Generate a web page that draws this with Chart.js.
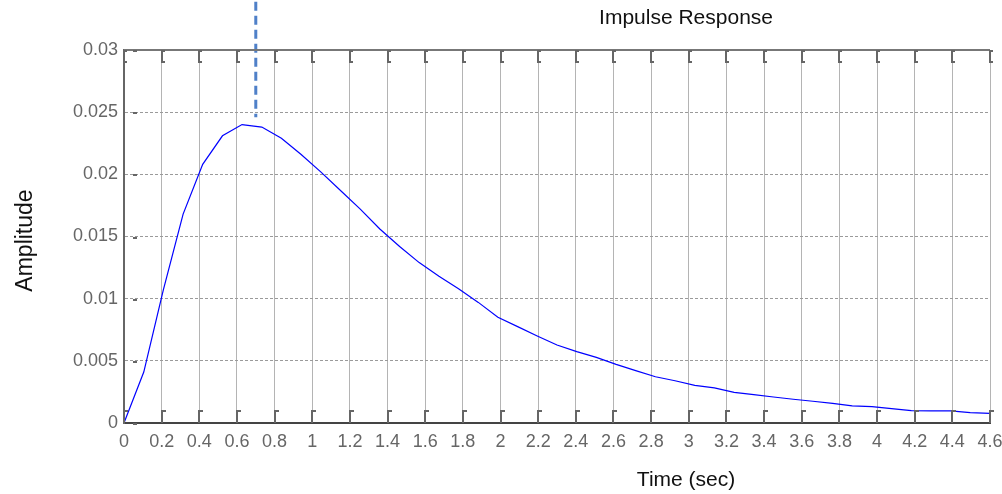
<!DOCTYPE html>
<html>
<head>
<meta charset="utf-8">
<script src="https://cdn.jsdelivr.net/npm/chart.js@4.4.1/dist/chart.umd.min.js"></script>
<style>
  html, body { margin: 0; padding: 0; background: #fff; }
</style>
</head>
<body>
<canvas id="impulseChart" width="1002" height="494"></canvas>
<script>
// impulse response samples
const timeSec = [0, 0.105, 0.209, 0.314, 0.418, 0.523, 0.627, 0.732, 0.836, 0.941,
  1.045, 1.15, 1.255, 1.359, 1.464, 1.568, 1.673, 1.777, 1.882, 1.986,
  2.091, 2.195, 2.3, 2.405, 2.509, 2.614, 2.718, 2.823, 2.927, 3.032,
  3.136, 3.241, 3.345, 3.45, 3.555, 3.659, 3.764, 3.868, 3.973, 4.077,
  4.182, 4.286, 4.391, 4.495, 4.6];
const amplitude = [0, 0.0041, 0.0107, 0.0168, 0.0208, 0.0231, 0.0240, 0.0238, 0.0229, 0.0216,
  0.0202, 0.0187, 0.0172, 0.0156, 0.0142, 0.0129, 0.0118, 0.0108, 0.0097, 0.0085,
  0.00775, 0.0070, 0.00627, 0.00574, 0.00528, 0.00472, 0.00421, 0.00372, 0.0034, 0.00303,
  0.00282, 0.00247, 0.00228, 0.00209, 0.00191, 0.00175, 0.00158, 0.00137, 0.00131, 0.00115,
  0.00099, 0.00097, 0.00097, 0.00083, 0.00078];

// dashed marker near the peak
const markerTime = [0.7, 0.7];
const markerAmp = [0.035, 0.0246];

const xRange = [0, 4.6];
const yRange = [0, 0.03];

const chartTitle = "Impulse Response";
const xTitle = "Time (sec)";
const yTitle = "Amplitude";

const labelFont = "'Liberation Sans', Arial, sans-serif";

// little tick marks inside the frame + titles
const frameMarks = {
  id: "frameMarks",
  afterDraw(chart) {
    const { ctx, chartArea: a, scales: { x, y } } = chart;
    ctx.save();
    // top frame line
    ctx.strokeStyle = "#777";
    ctx.lineWidth = 2;
    ctx.beginPath();
    ctx.moveTo(a.left, a.top);
    ctx.lineTo(a.right, a.top);
    ctx.stroke();

    ctx.strokeStyle = "#666";
    ctx.lineWidth = 2;
    x.ticks.forEach(function (t) {
      const px = Math.round(x.getPixelForValue(t.value));
      ctx.beginPath();
      ctx.moveTo(px + 3, a.top + 1);
      ctx.lineTo(px, a.top + 1);
      ctx.lineTo(px, a.top + 12);
      ctx.lineTo(px + 3, a.top + 12);
      ctx.stroke();
      ctx.beginPath();
      ctx.moveTo(px, a.bottom);
      ctx.lineTo(px, a.bottom - 12);
      ctx.lineTo(px + 4, a.bottom - 12);
      ctx.stroke();
    });
    y.ticks.forEach(function (t) {
      const py = Math.round(y.getPixelForValue(t.value));
      ctx.beginPath();
      ctx.moveTo(a.left + 9, py + 1);
      ctx.lineTo(a.left + 13, py + 1);
      ctx.stroke();
    });

    ctx.fillStyle = "#111";
    ctx.textAlign = "center";
    ctx.textBaseline = "middle";
    ctx.font = "21px " + labelFont;
    const cx = a.left + (a.right - a.left) * 0.649;
    ctx.fillText(chartTitle, cx, 18);
    ctx.fillText(xTitle, cx, 480);
    ctx.translate(26, (a.top + a.bottom) / 2 + 4);
    ctx.rotate(-Math.PI / 2);
    ctx.font = "23px " + labelFont;
    ctx.fillText(yTitle, 0, 0);
    ctx.restore();
  }
};

const ctx = document.getElementById("impulseChart").getContext("2d");
new Chart(ctx, {
  type: "line",
  data: {
    datasets: [
      {
        data: timeSec.map((t, i) => ({ x: t, y: amplitude[i] })),
        borderColor: "#0000ff",
        borderWidth: 1.2,
        pointRadius: 0,
        tension: 0,
        fill: false
      },
      {
        data: markerTime.map((t, i) => ({ x: t, y: markerAmp[i] })),
        borderColor: "#4f80c8",
        borderWidth: 3,
        borderDash: [9, 5],
        pointRadius: 0,
        clip: false,
        fill: false
      }
    ]
  },
  options: {
    responsive: false,
    animation: false,
    layout: { padding: { top: 50, right: 12, left: 0, bottom: 0 } },
    plugins: {
      legend: { display: false },
      tooltip: { enabled: false },
      title: { display: false }
    },
    scales: {
      x: {
        type: "linear",
        min: xRange[0],
        max: xRange[1],
        afterFit: function (scale) {
          scale.height = 71;
          // let the last label run off the edge like the original
          scale.paddingRight = 0;
        },
        grid: { color: "#b4b4b4", lineWidth: 1, drawTicks: false },
        border: { display: true, color: "#444", width: 2 },
        ticks: {
          stepSize: 0.2,
          autoSkip: false,
          maxRotation: 0,
          padding: 8,
          color: "#666",
          font: { size: 18, family: labelFont },
          callback: function (v) { return String(Number(v.toFixed(1))); }
        }
      },
      y: {
        min: yRange[0],
        max: yRange[1],
        afterFit: function (scale) { scale.width = 124; },
        grid: { color: "#9a9a9a", lineWidth: 1, drawTicks: false },
        border: { display: true, color: "#666", width: 2, dash: [3, 2] },
        ticks: {
          stepSize: 0.005,
          padding: 6,
          color: "#666",
          font: { size: 18, family: labelFont },
          callback: function (v) { return String(Number(v.toFixed(3))); }
        }
      }
    }
  },
  plugins: [frameMarks]
});
</script>
</body>
</html>
